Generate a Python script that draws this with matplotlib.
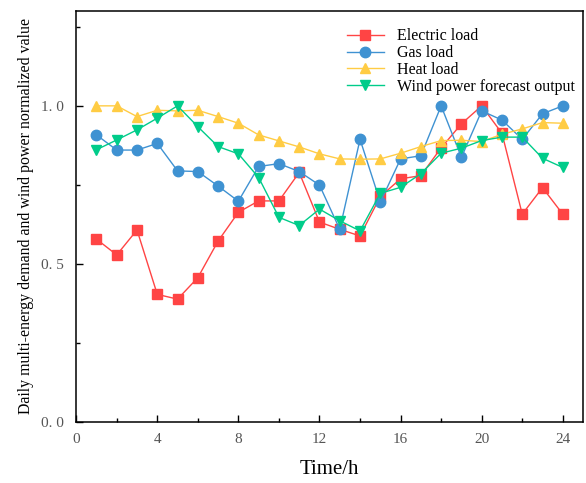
import matplotlib
matplotlib.use("Agg")
import matplotlib.pyplot as plt
from matplotlib.ticker import MultipleLocator, FixedLocator

plt.rcParams['font.family'] = ['Liberation Serif', 'DejaVu Serif']

hours = list(range(1, 25))

electric = [0.578, 0.528, 0.607, 0.403, 0.388, 0.456, 0.572, 0.663, 0.699, 0.699, 0.789, 0.632,
            0.609, 0.588, 0.713, 0.769, 0.779, 0.867, 0.943, 1.000, 0.913, 0.657, 0.741, 0.657]
gas = [0.908, 0.860, 0.860, 0.881, 0.794, 0.792, 0.746, 0.698, 0.808, 0.817, 0.792, 0.749,
       0.609, 0.894, 0.695, 0.832, 0.842, 1.000, 0.837, 0.984, 0.955, 0.894, 0.975, 1.000]
heat = [1.000, 1.000, 0.966, 0.986, 0.984, 0.986, 0.966, 0.945, 0.908, 0.889, 0.870, 0.848,
        0.832, 0.831, 0.832, 0.850, 0.871, 0.890, 0.891, 0.887, 0.910, 0.927, 0.947, 0.945]
wind = [0.861, 0.892, 0.924, 0.961, 1.000, 0.934, 0.871, 0.848, 0.773, 0.647, 0.621, 0.673,
        0.636, 0.604, 0.723, 0.742, 0.785, 0.850, 0.866, 0.890, 0.901, 0.901, 0.834, 0.805]

series = [
    ("Electric load", electric, "#FF4444", "s"),
    ("Gas load", gas, "#3F92D2", "o"),
    ("Heat load", heat, "#FFCC44", "^"),
    ("Wind power forecast output", wind, "#00CC8A", "v"),
]

fig = plt.figure(figsize=(5.86, 4.83), dpi=100)
ax = fig.add_axes([0.130, 0.127, 0.865, 0.850])

for name, vals, col, mk in series:
    ax.plot(hours, vals, color=col, marker=mk, markersize=7.5, linewidth=1.0, label=name)

ax.set_xlim(0, 25)
ax.set_ylim(0, 1.3)
ax.xaxis.set_major_locator(FixedLocator([0, 4, 8, 12, 16, 20, 24]))
ax.xaxis.set_minor_locator(FixedLocator([2, 6, 10, 14, 18, 22]))
ax.yaxis.set_major_locator(FixedLocator([0, 0.5, 1.0]))
ax.yaxis.set_minor_locator(MultipleLocator(0.25))
ax.set_yticklabels(["0. 0", "0. 5", "1. 0"])

ax.tick_params(which='both', direction='in', top=False, right=False,
               labelsize=11, labelcolor='#555555', width=1.0)
ax.tick_params(which='major', length=5)
ax.tick_params(which='minor', length=3)
ax.tick_params(axis='x', pad=8)
ax.tick_params(axis='y', pad=9)
for sp in ax.spines.values():
    sp.set_linewidth(1.1)

ax.set_xlabel("Time/h", fontsize=15, labelpad=10)
ax.set_ylabel("Daily multi-energy demand and wind power normalized value", fontsize=11.4, labelpad=5)

ax.legend(loc='upper right', bbox_to_anchor=(1.005, 0.985), frameon=False, fontsize=11.5,
          handlelength=2.3, labelspacing=0.05, borderaxespad=0.3, handletextpad=0.8)

fig.savefig("out.png", dpi=100)
